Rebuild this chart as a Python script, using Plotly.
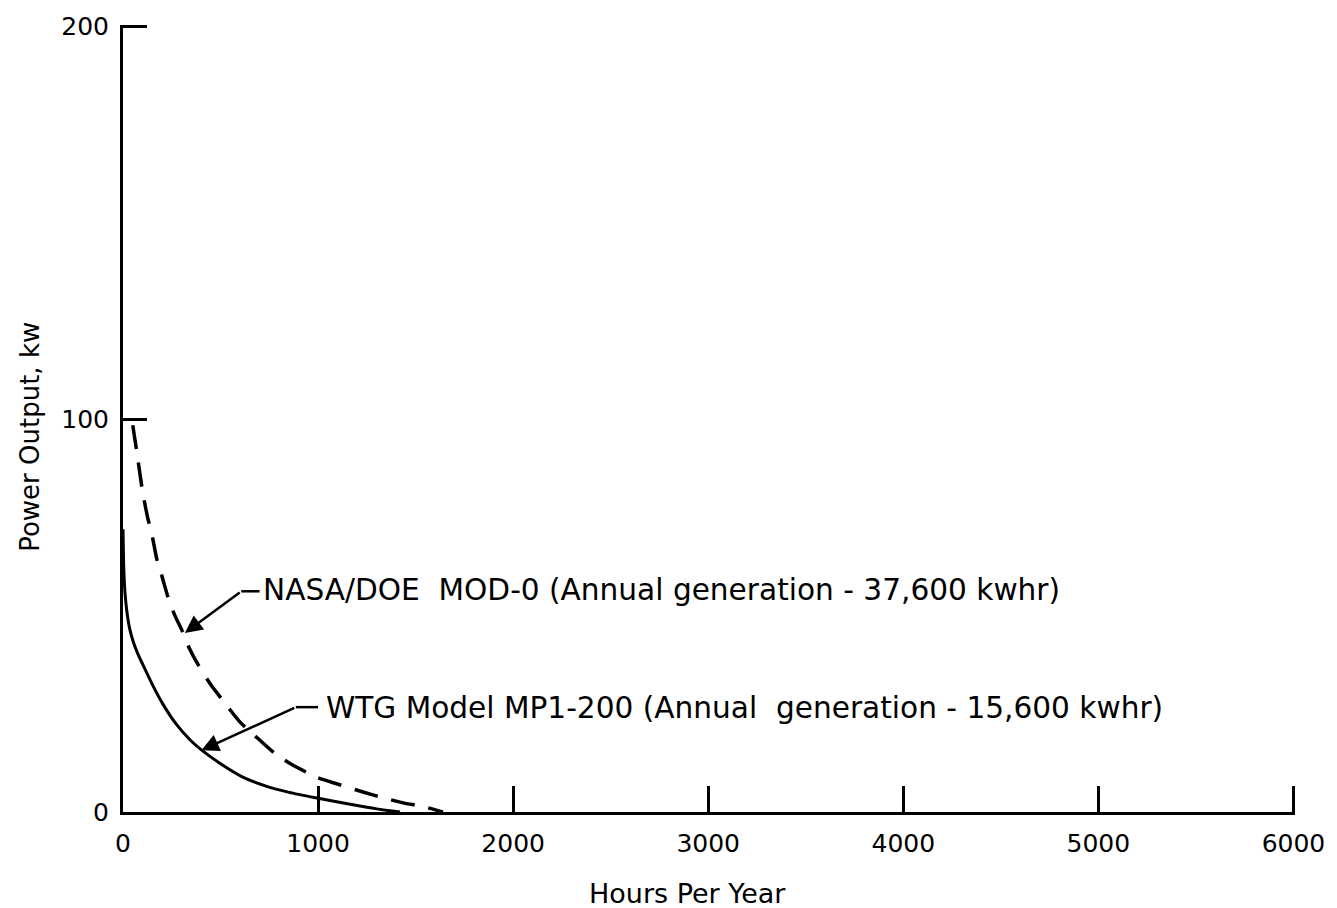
import plotly.graph_objects as go

# ---- data ----
wtg_hours = [0, 4, 10, 20, 35, 53, 75, 101, 152, 203, 271, 347, 415, 500, 614, 733, 852, 1000, 1150, 1300, 1420]
wtg_kw = [72, 62, 56, 51, 46.5, 43.3, 40.4, 37.6, 32.3, 27.6, 22.5, 18.2, 15.3, 12.3, 8.9, 6.6, 5.0, 3.5, 2.1, 0.8, 0]

mod0_hours = [50, 71, 100, 125, 148, 175, 200, 230, 266, 300, 340, 385, 453, 512, 600, 674,
              776, 861, 996, 1107, 1243, 1328, 1447, 1523, 1640]
mod0_kw = [98.5, 91.6, 81.7, 75.3, 70.7, 64, 60, 54.8, 50, 46.5, 41.7, 37.5, 32.2, 28.4, 22.9, 19.5,
           15, 12.2, 8.8, 7.0, 4.9, 3.7, 2.2, 1.6, 0]

x_ticks = [0, 1000, 2000, 3000, 4000, 5000, 6000]
y_ticks = [0, 100, 200]

mod0_label = "NASA/DOE  MOD-0 (Annual generation - 37,600 kwhr)"
wtg_label = "WTG Model MP1-200 (Annual  generation - 15,600 kwhr)"
x_title = "Hours Per Year"
y_title = "Power Output, kw"

FONT = "DejaVu Sans"
TICK_FS = 25
NOTE_FS = 29.6

fig = go.Figure()
fig.add_trace(go.Scatter(x=wtg_hours, y=wtg_kw, mode="lines",
                         line=dict(color="black", width=3, shape="spline", smoothing=0.7),
                         showlegend=False, hoverinfo="skip"))
fig.add_trace(go.Scatter(x=mod0_hours, y=mod0_kw, mode="lines",
                         line=dict(color="black", width=3.5, dash="24px,14px", shape="spline", smoothing=0.6),
                         showlegend=False, hoverinfo="skip"))

# leader lines: tip -> elbow -> horizontal -> text
leaders = [
    dict(tip=(317, 45.6), elbow=(606, 56.2), hend=(700, 56.2), text=mod0_label, tx=706, ty=56.6),
    dict(tip=(402, 15.7), elbow=(886, 26.7), hend=(1000, 26.7), text=wtg_label, tx=1028, ty=26.6),
]
for L in leaders:
    fig.add_shape(type="line", x0=L["elbow"][0], y0=L["elbow"][1], x1=L["hend"][0], y1=L["hend"][1],
                  xref="x", yref="y", line=dict(color="black", width=2.5))
    fig.add_annotation(x=L["tip"][0], y=L["tip"][1], ax=L["elbow"][0], ay=L["elbow"][1],
                       xref="x", yref="y", axref="x", ayref="y", text="", showarrow=True,
                       arrowhead=2, arrowsize=1.4, arrowwidth=2.5, arrowcolor="black", standoff=0)
    fig.add_annotation(x=L["tx"], y=L["ty"], xref="x", yref="y", text=L["text"], showarrow=False,
                       xanchor="left", yanchor="middle", font=dict(family=FONT, size=NOTE_FS, color="black"))

fig.add_annotation(x=0.4817, y=-0.103, xref="paper", yref="paper", text=x_title, showarrow=False,
                   xanchor="center", yanchor="middle", font=dict(family=FONT, size=27, color="black"))
fig.add_annotation(x=-0.080, y=0.477, xref="paper", yref="paper", text=y_title, showarrow=False,
                   textangle=-90, xanchor="center", yanchor="middle",
                   font=dict(family=FONT, size=26, color="black"))

# ranges padded a hair so the end ticks (200 and 6000) are drawn
fig.update_xaxes(range=[0, 6008], tickvals=x_ticks, ticktext=[str(v) for v in x_ticks],
                 ticks="inside", ticklen=26, tickwidth=2.5, tickcolor="black",
                 showline=True, linecolor="black", linewidth=3, showgrid=False, zeroline=False,
                 tickfont=dict(family=FONT, size=TICK_FS, color="black"), ticklabelstandoff=7)
fig.update_yaxes(range=[0, 200.4], tickvals=y_ticks, ticktext=[str(v) for v in y_ticks],
                 ticks="inside", ticklen=24, tickwidth=2.5, tickcolor="black",
                 showline=True, linecolor="black", linewidth=3, showgrid=False, zeroline=False,
                 tickfont=dict(family=FONT, size=TICK_FS, color="black"), ticklabelstandoff=6)

fig.update_layout(width=1337, height=908, margin=dict(l=123, r=41, t=21, b=96),
                  paper_bgcolor="white", plot_bgcolor="white", showlegend=False)

fig.write_html("out.html")
